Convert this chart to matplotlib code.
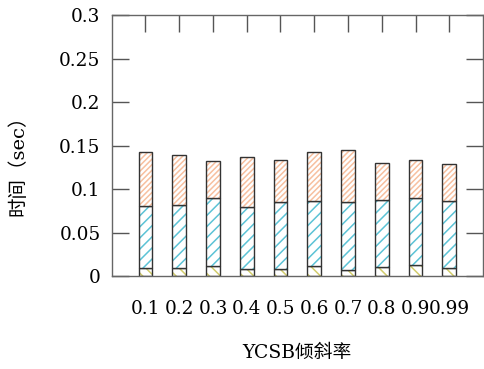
import numpy as np
import matplotlib
matplotlib.use("Agg")
import matplotlib.pyplot as plt

plt.rcParams['font.family'] = ['DejaVu Serif', 'Noto Sans CJK SC']
plt.rcParams['hatch.linewidth'] = 1.1

skew = ['0.1', '0.2', '0.3', '0.4', '0.5', '0.6', '0.7', '0.8', '0.9', '0.99']
# three stacked time components per skew value (sec)
part_low = [0.0088, 0.0088, 0.0111, 0.0080, 0.0085, 0.0111, 0.0065, 0.0100, 0.0123, 0.0092]
part_mid = [0.0720, 0.0728, 0.0782, 0.0717, 0.0765, 0.0747, 0.0782, 0.0774, 0.0770, 0.0766]
part_top = [0.0614, 0.0574, 0.0425, 0.0571, 0.0480, 0.0562, 0.0601, 0.0426, 0.0437, 0.0426]

colors = ['#d2cc6c', '#5cc3d6', '#f7c0a0']
hatches = ['\\\\\\', '///', '//////']

fig = plt.figure(figsize=(4.84, 3.69), dpi=100)
ax = fig.add_axes([0.2308, 0.252, 0.7672, 0.7073])

x = np.arange(len(skew))
width = 0.41
bottom = np.zeros(len(skew))
for vals, c, h in zip([part_low, part_mid, part_top], colors, hatches):
    vals = np.array(vals)
    ax.bar(x, vals, width, bottom=bottom, color='white', edgecolor=c,
           hatch=h, linewidth=0)
    ax.bar(x, vals, width, bottom=bottom, fill=False, edgecolor='#333333',
           linewidth=1.0)
    bottom += vals

ax.set_xlim(-1, 10)
ax.set_ylim(0, 0.3)
ax.set_yticks(np.arange(0, 0.301, 0.05))
ax.set_yticklabels(['0', '0.05', '0.1', '0.15', '0.2', '0.25', '0.3'])
ax.set_xticks(x)
ax.set_xticklabels(skew)

for s in ax.spines.values():
    s.set_color('#666666')
    s.set_linewidth(1.0)

ax.tick_params(axis='y', direction='in', length=12, width=1, color='#555555',
               left=True, right=True, labelsize=13.3, pad=8)
ax.tick_params(axis='x', direction='in', length=12, width=1, color='#555555',
               bottom=False, top=True, labelsize=13.3, pad=17)

ax.set_xlabel('YCSB倾斜率', fontsize=13.5)
ax.set_ylabel('时间（sec）', fontsize=14)
ax.xaxis.set_label_coords(0.5, -0.262)
ax.yaxis.set_label_coords(-0.228, 0.44)

fig.savefig('out.png', dpi=100)
